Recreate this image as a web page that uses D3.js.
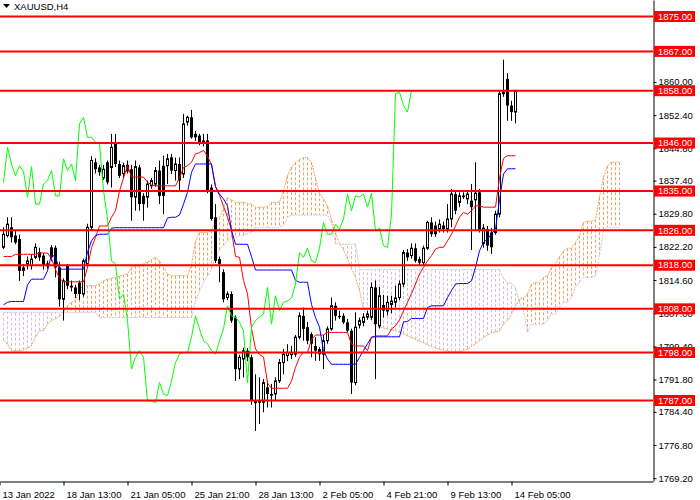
<!DOCTYPE html>
<html>
<head>
<meta charset="UTF-8">
<title>XAUUSD H4</title>
<script src="https://d3js.org/d3.v7.min.js"></script>
<style>
  body { margin: 0; background: #fff; }
  svg { display: block; font-family: "Liberation Sans", Arial, sans-serif; }
</style>
</head>
<body>
<svg id="chart" width="700" height="500"></svg>
<script>
// ---- data (bar 0 = left edge, 4h bars) ----
const opens = [1822.1,1824.8,1826.7,1824.8,1824.0,1817.5,1818.3,1817.9,1819.8,1821.0,1820.2,1817.9,1822.1,1822.0,1817.5,1810.2,1817.9,1813.3,1812.9,1814.0,
  1811.4,1818.3,1826.7,1841.6,1840.4,1838.0,1841.6,1840.4,1845.8,1841.2,1839.0,1841.0,1840.0,1833.6,1840.4,1833.9,1833.6,1836.2,1836.6,1839.7,
  1840.8,1840.8,1842.7,1839.7,1841.2,1838.9,1850.8,1851.9,1848.1,1847.7,1846.6,1846.6,1835.8,1829.0,1819.4,1816.4,1810.6,1811.4,1806.0,1794.2,
  1796.5,1798.4,1796.9,1786.5,1786.9,1786.6,1790.0,1788.5,1788.5,1791.5,1795.7,1797.3,1797.5,1797.6,1801.5,1806.4,1803.8,1802.2,1799.5,1798.8,
  1797.6,1800.7,1803.4,1808.7,1806.4,1806.4,1804.9,1803.0,1791.1,1804.3,1804.9,1806.1,1806.1,1812.9,1804.1,1808.9,1807.5,1809.0,1809.5,1810.6,
  1813.7,1820.9,1820.2,1821.9,1819.4,1818.6,1821.9,1827.8,1827.1,1826.3,1827.1,1826.3,1828.6,1834.3,1832.4,1834.0,1833.2,1832.8,1833.0,1834.7,
  1823.0,1826.3,1825.5,1825.5,1829.7,1857.3,1860.7,1854.6,1853.1];
const highs = [1826.7,1829.0,1829.0,1825.9,1825.0,1818.3,1820.0,1820.5,1823.0,1822.0,1820.8,1819.0,1822.6,1822.5,1818.8,1815.0,1818.3,1814.5,1813.5,1814.5,
  1819.5,1827.5,1843.0,1842.5,1841.0,1841.0,1842.0,1848.1,1848.1,1842.0,1841.5,1842.0,1841.0,1842.0,1841.0,1834.5,1837.4,1838.0,1840.5,1842.0,
  1843.1,1843.5,1843.5,1842.7,1842.7,1852.7,1852.3,1853.6,1848.8,1848.1,1848.1,1848.1,1836.5,1832.0,1820.0,1817.1,1812.0,1812.0,1806.5,1797.5,
  1799.1,1799.0,1797.5,1793.0,1792.3,1791.9,1791.5,1790.8,1792.3,1796.5,1798.8,1799.9,1799.5,1802.0,1807.2,1808.3,1805.0,1802.6,1801.5,1799.2,
  1802.0,1804.0,1810.6,1809.5,1807.6,1807.0,1805.7,1803.5,1807.2,1806.0,1807.0,1807.6,1814.1,1814.5,1813.0,1811.2,1811.0,1811.0,1813.3,1814.5,
  1821.5,1821.7,1823.0,1823.0,1820.0,1822.5,1828.2,1829.0,1828.0,1828.5,1828.0,1832.0,1835.5,1835.1,1834.7,1834.7,1835.1,1836.6,1841.6,1835.5,
  1827.4,1827.0,1826.5,1830.5,1858.0,1865.1,1862.0,1855.7,1858.2];
const lows = [1821.7,1824.4,1823.2,1822.8,1814.4,1815.5,1817.0,1817.0,1819.4,1819.0,1817.0,1817.2,1819.0,1815.2,1808.5,1805.3,1812.5,1812.0,1810.5,1810.0,
  1810.8,1817.5,1826.0,1839.0,1838.5,1837.5,1836.5,1835.8,1840.5,1838.0,1838.0,1839.0,1828.2,1830.5,1830.5,1828.2,1831.2,1835.5,1836.0,1832.0,
  1829.7,1836.6,1838.9,1837.4,1835.1,1838.0,1850.0,1847.0,1846.5,1845.5,1845.2,1834.5,1828.2,1818.5,1814.1,1809.5,1810.0,1804.8,1791.5,1791.9,
  1792.3,1796.0,1786.0,1780.0,1781.6,1784.3,1785.4,1785.4,1786.9,1791.0,1793.0,1796.0,1796.5,1797.0,1801.0,1800.7,1799.9,1796.9,1796.1,1796.1,
  1794.2,1800.0,1803.0,1805.3,1805.7,1804.5,1802.5,1788.5,1790.5,1803.5,1804.0,1805.5,1805.5,1791.9,1803.5,1806.0,1806.5,1807.0,1808.3,1810.0,
  1813.0,1819.0,1819.5,1818.6,1818.0,1818.0,1821.5,1824.5,1824.5,1825.5,1825.5,1825.5,1826.7,1829.7,1831.3,1833.2,1832.0,1821.5,1825.9,1825.5,
  1822.0,1821.3,1820.6,1825.0,1829.0,1856.6,1851.1,1851.1,1850.5];
const closes = [1825.1,1827.4,1824.4,1823.2,1816.7,1816.7,1819.0,1819.4,1822.1,1819.8,1817.9,1818.3,1819.8,1817.5,1810.2,1814.4,1813.3,1812.9,1811.4,1811.4,
  1819.0,1826.7,1842.0,1840.0,1839.3,1840.0,1837.0,1845.0,1841.2,1838.5,1840.8,1839.5,1833.6,1840.6,1832.0,1832.0,1836.6,1837.4,1839.7,1833.9,
  1833.9,1842.4,1839.7,1841.2,1837.4,1850.4,1851.9,1847.3,1847.3,1846.2,1845.8,1835.1,1828.6,1819.0,1818.3,1810.2,1811.4,1805.3,1794.2,1796.9,
  1798.4,1796.9,1786.9,1786.9,1786.5,1791.1,1788.5,1788.1,1791.5,1795.7,1797.6,1798.0,1798.0,1801.5,1806.4,1803.4,1800.7,1800.0,1798.4,1797.6,
  1800.7,1803.4,1808.7,1806.4,1806.1,1804.9,1803.0,1791.1,1803.8,1805.3,1806.1,1806.8,1812.9,1804.5,1811.0,1807.6,1809.5,1809.8,1810.5,1813.7,
  1820.9,1819.8,1821.9,1819.0,1818.6,1821.9,1827.8,1825.1,1825.1,1827.4,1826.3,1828.6,1834.3,1830.5,1833.9,1833.6,1834.3,1831.3,1834.5,1825.9,
  1826.5,1822.5,1822.1,1829.7,1857.3,1857.6,1854.6,1853.1,1858.0];

// Tenkan-sen (red) and Kijun-sen (blue), one value per bar
const tenkan = [1820.0,1820.0,1820.0,1820.5,1820.5,1820.5,1820.5,1820.5,1820.5,1820.8,1820.8,1820.8,1819.5,1817.0,1815.0,1814.2,1814.2,1814.2,1814.2,1814.2,
  1814.2,1817.5,1822.0,1824.4,1827.0,1827.0,1827.0,1829.0,1830.5,1835.0,1838.0,1840.8,1838.2,1838.2,1838.2,1838.2,1837.0,1836.4,1836.2,1836.2,
  1836.2,1836.2,1836.2,1836.2,1838.0,1840.4,1840.8,1841.6,1843.5,1843.8,1844.3,1843.0,1841.0,1836.0,1834.0,1831.5,1829.0,1826.0,1820.0,1819.8,
  1814.5,1811.5,1803.5,1798.8,1797.5,1797.0,1791.0,1789.8,1789.8,1789.8,1789.8,1789.8,1791.5,1794.6,1796.9,1798.0,1798.0,1801.0,1802.0,1802.0,
  1802.0,1802.6,1802.6,1802.6,1802.6,1802.6,1802.6,1799.9,1799.5,1799.5,1799.5,1798.4,1801.5,1801.8,1801.8,1801.8,1801.8,1803.4,1804.1,1805.5,
  1807.5,1809.5,1811.5,1813.7,1816.0,1817.5,1819.0,1820.2,1821.7,1822.1,1822.1,1823.6,1825.1,1827.0,1829.0,1830.1,1829.7,1830.5,1831.6,1831.6,
  1831.3,1831.3,1831.3,1831.3,1838.0,1842.5,1843.1,1843.1,1843.1];
const kijun = [1808.9,1809.5,1809.7,1809.7,1809.7,1809.7,1813.5,1814.8,1814.8,1814.8,1814.8,1816.7,1820.5,1819.8,1817.1,1817.1,1817.1,1817.1,1817.1,1817.1,
  1817.1,1821.0,1823.6,1824.8,1825.1,1825.1,1825.1,1826.5,1826.6,1826.6,1826.6,1826.6,1826.6,1826.6,1826.6,1826.6,1826.6,1826.6,1826.6,1826.6,
  1826.6,1828.8,1829.0,1829.0,1829.5,1832.0,1834.7,1839.3,1841.2,1841.2,1841.2,1841.2,1841.2,1836.0,1834.3,1833.2,1831.6,1826.0,1822.8,1822.8,
  1822.8,1822.8,1820.0,1816.9,1816.9,1816.9,1816.9,1816.9,1816.9,1816.9,1816.9,1816.9,1816.9,1814.5,1814.1,1814.1,1814.1,1809.0,1806.0,1803.8,
  1798.4,1796.5,1795.3,1795.3,1795.3,1795.3,1795.3,1795.3,1795.3,1796.9,1798.4,1800.0,1801.5,1801.6,1801.6,1801.6,1801.6,1801.6,1801.6,1801.6,
  1805.0,1805.1,1805.8,1805.8,1805.8,1805.8,1808.3,1808.7,1808.7,1808.7,1808.7,1810.6,1812.2,1813.7,1813.8,1813.8,1813.8,1814.4,1817.5,1821.3,
  1823.2,1824.0,1825.2,1826.3,1833.0,1838.9,1840.1,1840.1,1840.1];

// Senkou span A (sandy) and B (thistle), already shifted: runs 26 bars past the last candle
const spanA = [1800.7,1799.9,1798.4,1798.4,1798.4,1798.6,1799.0,1799.6,1801.5,1803.0,1803.0,1804.5,1805.3,1805.7,1806.3,1807.2,1808.7,1809.5,1810.0,1812.5,
  1813.3,1813.3,1813.3,1813.3,1813.7,1814.4,1814.8,1815.0,1815.2,1815.5,1815.8,1816.0,1817.5,1817.8,1817.9,1818.3,1818.7,1819.2,1819.8,1819.0,
  1817.5,1816.0,1815.6,1815.6,1815.6,1815.6,1815.6,1818.0,1823.6,1825.5,1825.5,1825.5,1825.9,1828.2,1829.0,1831.0,1833.5,1833.0,1832.4,1832.4,
  1832.4,1832.2,1832.0,1831.3,1831.3,1831.3,1831.5,1832.4,1832.4,1832.4,1835.0,1838.5,1840.5,1841.6,1842.2,1842.7,1842.7,1841.6,1838.0,1834.5,
  1833.2,1831.6,1828.5,1825.5,1822.9,1821.5,1819.5,1817.1,1815.2,1812.2,1807.8,1806.5,1805.3,1804.0,1803.8,1803.6,1803.4,1803.2,1803.0,1802.6,
  1802.2,1801.8,1801.4,1801.0,1800.6,1800.2,1799.8,1799.4,1799.0,1798.7,1798.5,1798.3,1798.2,1798.2,1798.2,1798.4,1798.8,1799.4,1800.0,1800.7,
  1801.4,1802.0,1802.6,1802.7,1802.9,1804.5,1805.3,1806.8,1808.7,1810.2,1810.6,1811.4,1813.7,1814.1,1814.1,1815.2,1815.6,1817.5,1818.3,1820.0,
  1821.3,1821.9,1821.9,1823.2,1824.8,1827.8,1828.1,1828.1,1828.4,1833.6,1838.2,1840.8,1841.6,1841.6,1841.6];
const spanB = [1807.2,1807.2,1807.2,1807.2,1807.2,1807.2,1807.2,1807.2,1807.2,1807.2,1807.2,1807.2,1807.2,1807.2,1807.2,1807.2,1807.2,1807.2,1807.2,1807.2,
  1807.2,1807.2,1807.2,1807.2,1806.0,1806.0,1806.0,1806.0,1806.0,1806.0,1806.0,1806.0,1806.0,1806.0,1806.0,1806.0,1806.0,1806.0,1806.0,1806.0,
  1806.0,1806.0,1806.0,1806.0,1806.0,1806.0,1806.0,1806.0,1809.8,1812.0,1814.0,1815.5,1817.0,1819.8,1821.5,1822.5,1823.6,1824.3,1824.4,1824.7,
  1824.8,1825.2,1825.5,1826.5,1826.7,1826.7,1826.7,1826.7,1826.7,1826.7,1827.1,1829.0,1829.5,1829.5,1829.5,1829.5,1829.5,1829.5,1829.5,1829.5,
  1829.5,1829.5,1827.8,1822.9,1822.8,1822.8,1822.8,1822.8,1822.8,1817.0,1817.0,1817.0,1817.0,1817.0,1817.0,1817.0,1817.0,1817.0,1817.0,1817.0,
  1817.0,1817.0,1817.0,1817.0,1817.0,1817.0,1817.0,1817.0,1817.0,1817.0,1817.0,1817.0,1817.0,1817.0,1817.0,1817.0,1817.0,1817.0,1817.0,1817.0,
  1817.0,1817.0,1817.0,1817.0,1817.0,1815.0,1814.0,1813.8,1812.9,1809.5,1807.6,1802.6,1804.5,1804.5,1804.5,1804.5,1805.3,1806.8,1806.8,1808.3,
  1809.5,1809.5,1810.6,1812.9,1814.1,1815.2,1815.2,1815.2,1815.6,1820.5,1825.9,1826.7,1826.7,1826.7,1826.7];

const chikouShift = 26;

// support / resistance levels
const levels = [1875, 1867, 1858, 1846, 1835, 1826, 1818, 1808, 1798, 1787];

// axis labels
const priceTicks = [1860.0, 1852.4, 1844.8, 1837.4, 1829.8, 1822.2, 1814.6, 1807.0, 1799.4, 1791.8, 1784.4, 1776.8, 1769.2];
const timeBars = [-1, 15, 31, 47, 63, 79, 95, 111, 127];
const timeLabels = ["13 Jan 2022", "18 Jan 13:00", "21 Jan 05:00", "25 Jan 21:00", "28 Jan 13:00",
  "2 Feb 05:00", "4 Feb 21:00", "9 Feb 13:00", "14 Feb 05:00"];

// ---- drawing ----
const svg = d3.select("#chart");
const plotW = 653, plotH = 481;
const fontSize = "9.5px";

const x = d3.scaleLinear().domain([-0.875, 162.375]).range([0, plotW]);
const y = d3.scaleLinear().domain([1768.55, 1878.78]).range([plotH, 0]);

svg.append("defs").append("clipPath").attr("id", "clip")
  .append("rect").attr("width", plotW).attr("height", plotH);

const plot = svg.append("g").attr("clip-path", "url(#clip)");

// cloud hatching
plot.append("g").selectAll("line").data(d3.range(spanA.length)).join("line")
  .attr("x1", i => x(i)).attr("x2", i => x(i))
  .attr("y1", i => y(spanA[i])).attr("y2", i => y(spanB[i]))
  .attr("stroke", i => spanA[i] >= spanB[i] ? "#F4A460" : "#D8BFD8")
  .attr("stroke-width", 1)
  .attr("stroke-dasharray", "3,2");

const seriesLine = d3.line().x((d, i) => x(i)).y(d => y(d));

plot.append("path").attr("d", seriesLine(spanB))
  .attr("fill", "none").attr("stroke", "#D8BFD8").attr("stroke-dasharray", "2,1");
plot.append("path").attr("d", seriesLine(spanA))
  .attr("fill", "none").attr("stroke", "#F4A460").attr("stroke-dasharray", "2,1");

// candles
const idx = d3.range(closes.length);
const candles = plot.append("g");
candles.selectAll("line").data(idx).join("line")
  .attr("x1", i => x(i)).attr("x2", i => x(i))
  .attr("y1", i => y(highs[i])).attr("y2", i => y(lows[i]))
  .attr("stroke", "#000").attr("stroke-width", 1);
candles.selectAll("rect").data(idx).join("rect")
  .attr("x", i => closes[i] >= opens[i] ? x(i) - 1 : x(i) - 1.5)
  .attr("width", i => closes[i] >= opens[i] ? 2 : 3)
  .attr("y", i => y(Math.max(opens[i], closes[i])))
  .attr("height", i => Math.max(1, y(Math.min(opens[i], closes[i])) - y(Math.max(opens[i], closes[i]))))
  .attr("fill", i => closes[i] >= opens[i] ? "#fff" : "#000")
  .attr("stroke", i => closes[i] >= opens[i] ? "#000" : "none")
  .attr("stroke-width", 1);

// ichimoku lines
plot.append("path").attr("d", seriesLine(tenkan))
  .attr("fill", "none").attr("stroke", "#FF0000").attr("stroke-width", 1);
plot.append("path").attr("d", seriesLine(kijun))
  .attr("fill", "none").attr("stroke", "#0000FF").attr("stroke-width", 1);
plot.append("path").attr("d", seriesLine(closes.slice(chikouShift)))
  .attr("fill", "none").attr("stroke", "#00FF00").attr("stroke-width", 1);

// horizontal levels
plot.append("g").selectAll("line").data(levels).join("line")
  .attr("x1", 0).attr("x2", plotW)
  .attr("y1", d => y(d)).attr("y2", d => y(d))
  .attr("stroke", "#FF0000").attr("stroke-width", 2);

// price axis
const yAxis = svg.append("g").attr("transform", `translate(${plotW + 0.5},0)`)
  .call(d3.axisRight(y).tickValues(priceTicks).tickSize(3).tickSizeOuter(0)
    .tickPadding(2).tickFormat(d3.format(".2f")));
yAxis.select(".domain").attr("stroke", "#000");
yAxis.selectAll("text").attr("font-size", fontSize)
  .attr("font-family", "'Liberation Sans', Arial, sans-serif").attr("fill", "#000");

// level labels
const tags = svg.append("g");
tags.selectAll("rect").data(levels).join("rect")
  .attr("x", plotW + 1).attr("y", d => y(d) - 5.5)
  .attr("width", 41).attr("height", 11).attr("fill", "#FF0000");
tags.selectAll("text").data(levels).join("text")
  .attr("x", plotW + 5).attr("y", d => y(d)).attr("dy", "0.34em")
  .attr("font-size", fontSize).attr("fill", "#fff")
  .text(d => d3.format(".2f")(d));

// time axis
const xAxis = svg.append("g").attr("transform", `translate(0,${plotH + 0.5})`)
  .call(d3.axisBottom(x).tickValues(timeBars).tickSize(4).tickSizeOuter(0)
    .tickFormat((d, i) => timeLabels[i]));
xAxis.select(".domain").attr("stroke", "#000");
xAxis.selectAll("text").attr("font-size", fontSize)
  .attr("font-family", "'Liberation Sans', Arial, sans-serif").attr("fill", "#000")
  .attr("text-anchor", "start").attr("x", 2.5).attr("y", 16).attr("dy", 0);

// symbol caption
svg.append("path").attr("d", "M3,4 L10,4 L6.5,8 Z").attr("fill", "#000");
svg.append("text").attr("x", 14).attr("y", 10)
  .attr("font-size", fontSize).attr("fill", "#000").text("XAUUSD,H4");
</script>
</body>
</html>
